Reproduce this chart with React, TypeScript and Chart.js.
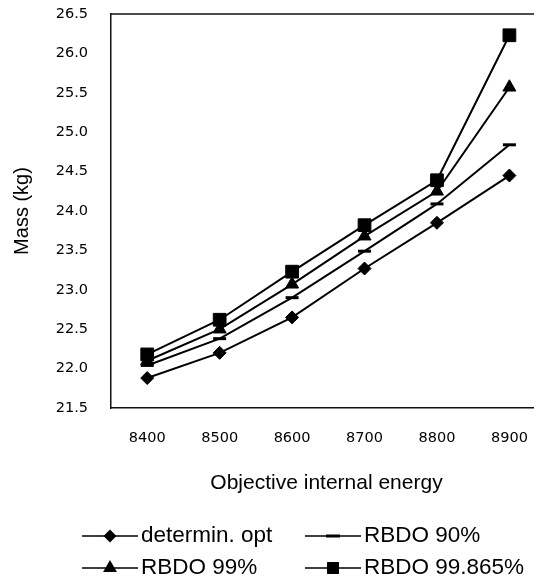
import React, { useEffect, useRef } from 'react';
import { Chart, registerables } from 'chart.js';

Chart.register(...registerables);

const categories = [8400, 8500, 8600, 8700, 8800, 8900];
const determinOpt = [21.88, 22.2, 22.65, 23.27, 23.85, 24.45];
const rbdo90 = [22.04, 22.38, 22.9, 23.49, 24.09, 24.84];
const rbdo99 = [22.1, 22.5, 23.07, 23.68, 24.25, 25.57];
const rbdo99865 = [22.18, 22.62, 23.23, 23.82, 24.39, 26.23];
const seriesLabels = ['determin. opt', 'RBDO 90%', 'RBDO 99%', 'RBDO 99.865%'];
const yTickLabels = ['21.5', '22.0', '22.5', '23.0', '23.5', '24.0', '24.5', '25.0', '25.5', '26.0', '26.5'];

const INK = '#000000';
const tickFont = { family: '"DejaVu Sans", sans-serif', size: 14.5 };
const titleFont = { family: '"Liberation Sans", Arial, sans-serif', size: 21 };
const legendFontSize = 22.5;

function drawMarker(ctx: CanvasRenderingContext2D, style: string, x: number, y: number) {
  ctx.beginPath();
  if (style === 'rectRot') {
    const r = 6.5;
    ctx.moveTo(x, y - r);
    ctx.lineTo(x + r, y);
    ctx.lineTo(x, y + r);
    ctx.lineTo(x - r, y);
    ctx.closePath();
    ctx.fill();
  } else if (style === 'triangle') {
    const r = 8;
    const hw = r * Math.sin(Math.PI / 3);
    ctx.moveTo(x, y - r);
    ctx.lineTo(x + hw, y + r / 2);
    ctx.lineTo(x - hw, y + r / 2);
    ctx.closePath();
    ctx.fill();
  } else if (style === 'rect') {
    ctx.fillRect(x - 6, y - 6, 12, 12);
  } else if (style === 'line') {
    ctx.fillRect(x - 7, y - 1.5, 14, 3);
  }
}

const frameAndLegend = {
  id: 'frameAndLegend',
  beforeDatasetsDraw(chart: any) {
    const { ctx, chartArea } = chart;
    ctx.save();
    ctx.strokeStyle = '#111';
    ctx.lineWidth = 1.5;
    ctx.beginPath();
    ctx.moveTo(chartArea.left, chartArea.top);
    ctx.lineTo(chartArea.right + 2, chartArea.top);
    ctx.stroke();
    ctx.restore();
  },
  afterDraw(chart: any) {
    const { ctx } = chart;
    const colX = [74, 297];
    const rowY = [528, 560];
    const lineLen = 56;
    ctx.save();
    chart.data.datasets.forEach((ds: any, i: number) => {
      const col = i % 2;
      const row = Math.floor(i / 2);
      const x0 = colX[col];
      const y = rowY[row];
      ctx.strokeStyle = INK;
      ctx.fillStyle = INK;
      ctx.lineWidth = 1.5;
      ctx.beginPath();
      ctx.moveTo(x0, y);
      ctx.lineTo(x0 + lineLen, y);
      ctx.stroke();
      drawMarker(ctx, ds.pointStyle, x0 + lineLen / 2, y);
      ctx.font = `${legendFontSize}px "Liberation Sans", Arial, sans-serif`;
      ctx.textAlign = 'left';
      ctx.textBaseline = 'middle';
      ctx.fillText(ds.label, x0 + lineLen + 3, y);
    });
    ctx.restore();
  },
};

export default function App() {
  const ref = useRef<HTMLCanvasElement | null>(null);

  useEffect(() => {
    document.documentElement.style.overflow = 'hidden';
    document.body.style.overflow = 'hidden';
    if (!ref.current) return;
    const mk = (label: string, values: number[], pointStyle: string, radius: number, bw: number) => ({
      label,
      data: values.map((v, i) => ({ x: categories[i], y: v })),
      borderColor: INK,
      backgroundColor: INK,
      borderWidth: 2,
      pointStyle,
      pointRadius: radius,
      pointBorderWidth: bw,
      pointBackgroundColor: INK,
      pointBorderColor: INK,
      tension: 0,
      clip: false,
    });
    const chart = new Chart(ref.current, {
      type: 'line',
      data: {
        datasets: [
          mk(seriesLabels[0], determinOpt, 'rectRot', 6.5, 1),
          mk(seriesLabels[1], rbdo90, 'line', 6.5, 3),
          mk(seriesLabels[2], rbdo99, 'triangle', 7.5, 1),
          mk(seriesLabels[3], rbdo99865, 'rect', 9, 1),
        ],
      },
      options: {
        animation: false,
        responsive: false,
        maintainAspectRatio: false,
        layout: { autoPadding: false, padding: { top: 6, left: 0, right: 0, bottom: 76 } },
        plugins: { legend: { display: false }, tooltip: { enabled: false } },
        scales: {
          x: {
            type: 'linear',
            min: 8350,
            max: 8945,
            afterBuildTicks: (s: any) => {
              s.ticks = categories.map((v) => ({ value: v }));
            },
            afterFit: (s: any) => {
              s.height = 95;
              s.paddingLeft = 0;
              s.paddingRight = 0;
            },
            grid: { display: false, drawTicks: true, tickLength: 22 },
            border: { display: true, color: '#111', width: 1.5 },
            ticks: {
              font: tickFont,
              color: INK,
              padding: 0,
              autoSkip: false,
              maxRotation: 0,
              callback: (v: any) => String(v),
            },
            title: {
              display: true,
              text: 'Objective internal energy',
              font: titleFont,
              color: INK,
              padding: { top: 0, bottom: 7 },
            },
          },
          y: {
            type: 'linear',
            min: 21.5,
            max: 26.5,
            afterBuildTicks: (s: any) => {
              s.ticks = yTickLabels.map((t) => ({ value: parseFloat(t) }));
            },
            afterFit: (s: any) => {
              s.width = 103;
              s.paddingTop = 0;
              s.paddingBottom = 0;
            },
            grid: { display: false, drawTicks: true, tickLength: 26 },
            border: { display: true, color: '#111', width: 1.5 },
            ticks: {
              font: tickFont,
              color: INK,
              padding: -3,
              callback: (v: any) => Number(v).toFixed(1),
            },
            title: {
              display: true,
              text: 'Mass (kg)',
              font: { family: '"Liberation Sans", Arial, sans-serif', size: 20 },
              color: INK,
              padding: { top: 2, bottom: 0 },
            },
          },
        },
      },
      plugins: [frameAndLegend],
    });
    return () => chart.destroy();
  }, []);

  return (
    <div style={{ width: 534, height: 571 }}>
      <canvas ref={ref} width={534} height={571} style={{ display: 'block' }} />
    </div>
  );
}
